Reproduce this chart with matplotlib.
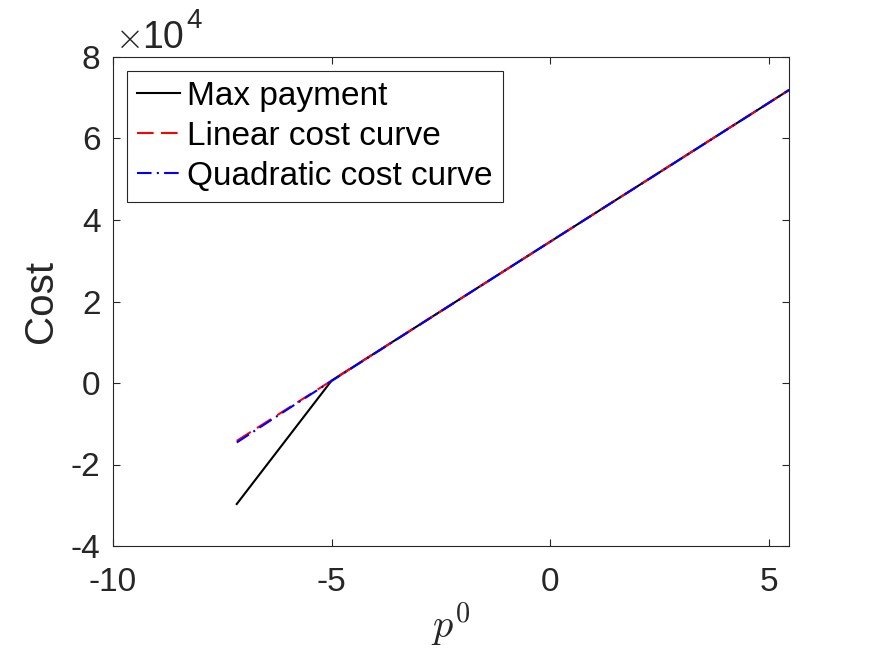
import matplotlib
matplotlib.use("Agg")
import matplotlib.pyplot as plt
from matplotlib.ticker import ScalarFormatter

plt.rcParams['font.family'] = ['Liberation Sans', 'DejaVu Sans']
plt.rcParams['mathtext.fontset'] = 'cm'
plt.rcParams['axes.unicode_minus'] = False

# Data
p_max = [-7.17, -5.0, 5.46]
cost_max = [-29700, 600, 71900]

p_lin = [-7.17, 5.46]
cost_lin = [-14200, 71900]

p_quad = [-7.17, -6.0, -5.0, -3.0, 0.0, 3.0, 5.46]
cost_quad = [-14600, -6400, 500, 14200, 34700, 55100, 71900]

xticks = [-10, -5, 0, 5]
yticks = [-40000, -20000, 0, 20000, 40000, 60000, 80000]

labels = ['Max payment', 'Linear cost curve', 'Quadratic cost curve']

gray = (0.15, 0.15, 0.15)
W, H = 872, 654

fig = plt.figure(figsize=(W/100, H/100), dpi=100)
ax = fig.add_axes([113/W, 1-546/H, (789-113)/W, (546-57)/H])

ax.plot(p_max, cost_max, color='black', lw=1.5, label=labels[0])
ax.plot(p_lin, cost_lin, color='red', lw=1.5, ls=(0, (8, 3.5)), label=labels[1])
ax.plot(p_quad, cost_quad, color='blue', lw=1.5, ls=(0, (7, 2.5, 1, 2.5)), label=labels[2])

ax.set_xlim(-10, 5.46)
ax.set_ylim(-40000, 80000)
ax.set_xticks(xticks)
ax.set_yticks(yticks)

fmt = ScalarFormatter(useMathText=False)
fmt.set_powerlimits((0, 0))
ax.yaxis.set_major_formatter(fmt)
ax.yaxis.get_offset_text().set_visible(False)

ax.tick_params(direction='in', length=5, width=0.8, colors=gray, labelsize=24,
               top=True, right=True)
ax.tick_params(axis='x', pad=15)
ax.tick_params(axis='y', pad=9)
for s in ax.spines.values():
    s.set_color(gray)
    s.set_linewidth(0.8)

ax.set_xlabel(r'$p^0$', fontsize=29, color=gray, labelpad=2)
ax.set_ylabel('Cost', fontsize=29, color=gray, labelpad=8)

# exponent label (x10^4)
fig.text(127.5/W, 1-38.5/H, r'$\times$', fontsize=26, color=gray, ha='center', va='center')
fig.text(142/W, 1-48/H, '10', fontsize=27, color=gray, ha='left', va='baseline')
fig.text(186/W, 1-28/H, '4', fontsize=20, color=gray, ha='left', va='baseline')

leg = ax.legend(loc='upper left', bbox_to_anchor=((127-113)/676, (546-71)/489),
                borderaxespad=0, fontsize=24, handlelength=1.3, handletextpad=0.2,
                labelspacing=0.27, borderpad=0.3, fancybox=False, framealpha=1)
leg.get_frame().set_edgecolor(gray)
leg.get_frame().set_linewidth(0.8)

fig.savefig('out.png', dpi=100)
